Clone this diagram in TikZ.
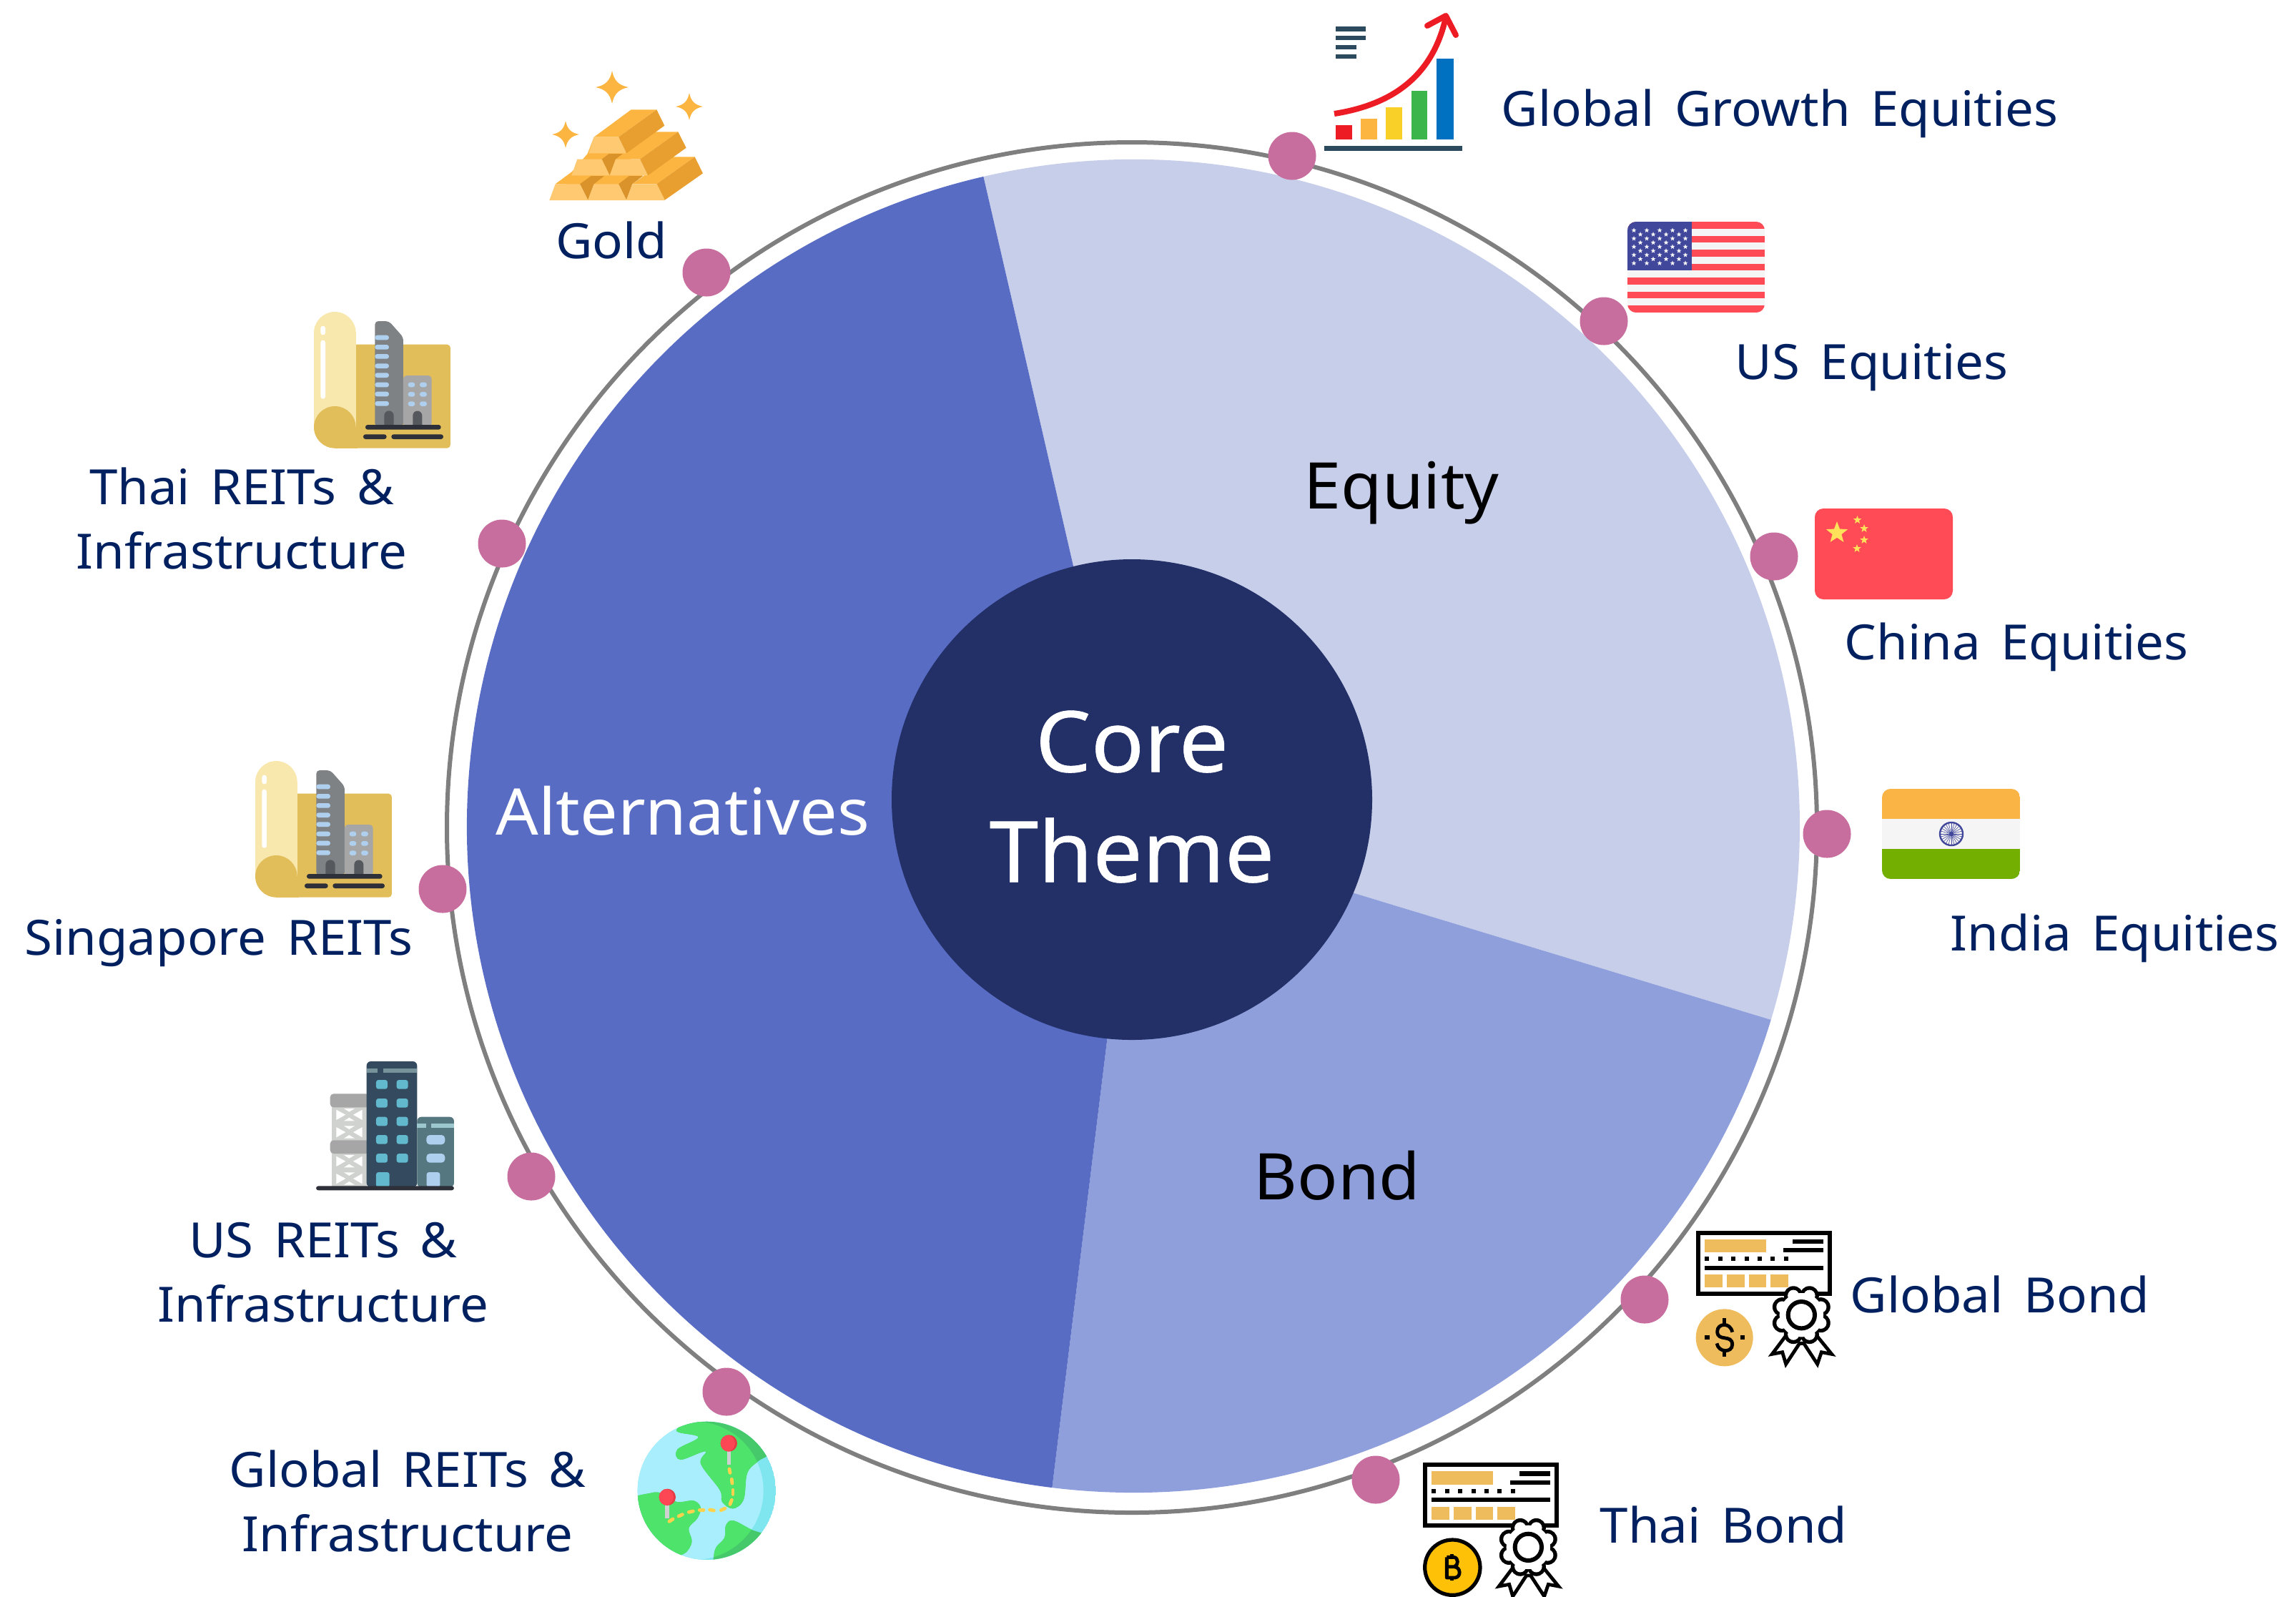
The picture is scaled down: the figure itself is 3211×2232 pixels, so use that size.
\documentclass[tikz,border=0pt]{standalone}
\usepackage{fontspec}
\setmainfont{Noto Sans}[WordSpace=1.55,FakeStretch=1.04]

\definecolor{navytext}{HTML}{002060}
\definecolor{equityfill}{HTML}{C7CEEA}
\definecolor{bondfill}{HTML}{8F9FDB}
\definecolor{altfill}{HTML}{586CC4}
\definecolor{hubfill}{HTML}{223067}
\definecolor{dotfill}{HTML}{C86E9E}
\definecolor{ringgray}{HTML}{7F7F7F}
\definecolor{chartslate}{HTML}{2B4A5E}
\definecolor{chartred}{HTML}{ED1C24}
\definecolor{chartyellow}{HTML}{F9D028}
\definecolor{chartgreen}{HTML}{3CB54A}
\definecolor{chartblue}{HTML}{0070C0}
\definecolor{flagred}{HTML}{FF4B55}
\definecolor{flagblue}{HTML}{41479B}
\definecolor{flagwhite}{HTML}{F5F5F5}
\definecolor{flagyellow}{HTML}{FFE15A}
\definecolor{flagorange}{HTML}{FAB446}
\definecolor{flaggreen}{HTML}{73AF00}
\definecolor{goldtop}{HTML}{FCB541}
\definecolor{goldfront}{HTML}{FFC971}
\definecolor{goldside}{HTML}{E99F2F}
\definecolor{goldshade}{HTML}{D9932A}
\definecolor{sheetdark}{HTML}{E2BE5B}
\definecolor{sheetlight}{HTML}{F8E8AE}
\definecolor{towergray}{HTML}{7F8284}
\definecolor{towerlight}{HTML}{A6A6A6}
\definecolor{doorgray}{HTML}{55585D}
\definecolor{paneblue}{HTML}{AED0EE}
\definecolor{grounddark}{HTML}{2D3039}
\definecolor{blockdark}{HTML}{344A5F}
\definecolor{blockteal}{HTML}{557780}
\definecolor{blockband}{HTML}{9CC7CE}
\definecolor{paneteal}{HTML}{62B8CC}
\definecolor{latticegray}{HTML}{D0D2CF}
\definecolor{seaone}{HTML}{A8EEFC}
\definecolor{seatwo}{HTML}{7FE6F0}
\definecolor{landone}{HTML}{4EE36B}
\definecolor{landtwo}{HTML}{46C96A}
\definecolor{pinred}{HTML}{FD4755}
\definecolor{pindark}{HTML}{E53B45}
\definecolor{routeyellow}{HTML}{FFD24D}
\definecolor{chequegold}{HTML}{EFBC5D}
\definecolor{coinyellow}{HTML}{FFC107}

\tikzset{
assetlabel/.style={text=navytext,inner sep=0pt,align=center,font=\fontsize{17}{22.5}\selectfont},
sliceslabel/.style={inner sep=0pt,font=\fontsize{22.5}{27}\selectfont},
assetdot/.style={circle,fill=dotfill,inner sep=0pt,minimum size=16.75pt},
}

\newcommand{\flagstar}[4]{\fill[#4,shift={(#1,#2)},scale=#3] (-90:1) -- (-54:.42) -- (-18:1) -- (18:.42) -- (54:1) -- (90:.42) -- (126:1) -- (162:.42) -- (198:1) -- (234:.42) -- cycle;}
\newcommand{\goldspark}[3]{\fill[goldtop,shift={(#1,#2)},scale=#3] (0,-1) .. controls (.12,-.4) and (.4,-.12) .. (1,0) .. controls (.4,.12) and (.12,.4) .. (0,1) .. controls (-.12,.4) and (-.4,.12) .. (-1,0) .. controls (-.4,-.12) and (-.12,-.4) .. cycle;}

\newcommand{\scrollicon}[2]{
\begin{scope}[shift={(#1,#2)},scale=0.3333]
\fill[sheetdark,rounded corners=1.2pt] (250,245) rectangle (690,680);
\fill[sheetlight] (205,196) circle (88);
\fill[sheetlight] (117,196) rectangle (293,592);
\fill[sheetdark] (205,592) circle (88);
\fill[sheetdark] (205,600) rectangle (300,680);
\fill[white,rounded corners=.8pt] (145,167) rectangle (165,205);
\fill[white,rounded corners=.8pt] (145,227) rectangle (165,473);
\fill[towergray,rounded corners=1.2pt] (373,590) -- (373,147) -- (432,147) -- (492,215) -- (492,590) -- cycle;
\foreach \winy in {206,246,285,325,364,404,443,483}
\fill[paneblue,rounded corners=.8pt] (373,\winy) rectangle ++(59,20);
\fill[towerlight,rounded corners=1.2pt] (492,590) -- (492,375) -- (611,375) -- (611,590) -- cycle;
\foreach \winy in {404,444,484}{
\fill[paneblue,rounded corners=.8pt] (512,\winy) rectangle ++(29,20);
\fill[paneblue,rounded corners=.8pt] (561,\winy) rectangle ++(30,20);
}
\fill[doorgray] (412,585) -- (412,543) arc (180:360:20) -- (452,585) -- cycle;
\fill[doorgray] (532,585) -- (532,543) arc (180:360:19.5) -- (571,585) -- cycle;
\fill[grounddark,rounded corners=.8pt] (333,582) rectangle (650,602);
\fill[grounddark,rounded corners=.8pt] (324,622) rectangle (422,642);
\fill[grounddark,rounded corners=.8pt] (442,622) rectangle (660,642);
\end{scope}
}

\newcommand{\chequeicon}[2]{
\begin{scope}[shift={(#1,#2)},scale=0.3333]
\draw[line width=1.5pt,fill=white] (106,71) rectangle (658,326);
\fill[chequegold] (133,98) rectangle (391,153);
\fill (500,98) rectangle (631,117);
\fill (463,135) rectangle (631,153);
\foreach \sqx in {133,188,244,299,354,409,464}
\fill (\sqx,172) rectangle ++(18,18);
\fill (133,209) rectangle (631,227);
\foreach \blkx/\blkw in {133/74,225/74,318/73,408/75}
\fill[chequegold] (\blkx,246) rectangle ++(\blkw,54);
\draw[line width=1.2pt,fill=white,line join=miter] (475,500) -- (415,580) -- (458,572) -- (473,622) -- (530,535) -- (548,535) -- (605,622) -- (622,572) -- (665,580) -- (600,500) -- cycle;
\foreach \lobe in {0,45,...,315}
\fill (538,416) ++(\lobe+22.5:88) circle (40);
\foreach \lobe in {0,45,...,315}
\fill[white] (538,416) ++(\lobe+22.5:88) circle (24);
\fill[white] (538,416) circle (92);
\draw[line width=1.5pt] (538,416) circle (56);
\end{scope}
}

\newcommand{\landpath}{
plot[smooth cycle,tension=.6] coordinates {(258,118) (350,148) (262,200) (275,243) (380,208) (360,260) (440,370) (450,420) (495,448) (540,410) (555,300) (600,250) (680,190) (620,60) (400,40)}
plot[smooth cycle,tension=.6] coordinates {(60,420) (150,383) (200,385) (260,420) (330,415) (360,445) (345,490) (310,530) (322,590) (285,640) (200,640) (80,560)}
plot[smooth cycle,tension=.6] coordinates {(415,650) (425,610) (460,570) (465,520) (495,498) (570,535) (660,580) (600,690) (420,700)}
}

\begin{document}
\begin{tikzpicture}[x=0.25pt,y=0.25pt,yscale=-1]
\useasboundingbox (0,0) rectangle (3211,2232);

% ring and pie
\draw[ringgray,line width=1.5pt] (1583,1157) circle (958);
\fill[equityfill] (1585,1155) -- ++(-103:932) arc (-103:16.9:932) -- cycle;
\fill[bondfill] (1585,1155) -- ++(16.9:932) arc (16.9:97:932) -- cycle;
\fill[altfill] (1585,1155) -- ++(97:932) arc (97:257:932) -- cycle;
\node[circle,fill=hubfill,inner sep=0pt,minimum size=168pt] (hub) at (1583,1118) {};
\node[text=white,inner sep=0pt,align=center,font=\fontsize{29.6}{38.5}\selectfont\addfontfeature{FakeBold=0.5}] (hubtext) at (1583,1114) {Core\\Theme};

\node[sliceslabel,text=black,anchor=base] (equity) at (1960,711) {Equity};
\node[sliceslabel,text=black,anchor=base] (bond) at (1870,1677) {Bond};
\node[sliceslabel,text=white,anchor=base] (alternatives) at (955,1167) {Alternatives};

% dots on the ring
\node[assetdot] (dotgrowth) at (1807,218) {};
\node[assetdot] (dotus) at (2243,449) {};
\node[assetdot] (dotchina) at (2481,778) {};
\node[assetdot] (dotindia) at (2555,1166) {};
\node[assetdot] (dotglobalbond) at (2300,1817) {};
\node[assetdot] (dotthaibond) at (1924,2069) {};
\node[assetdot] (dotglobalreit) at (1016,1946) {};
\node[assetdot] (dotusreit) at (743,1645) {};
\node[assetdot] (dotsingapore) at (619,1243) {};
\node[assetdot] (dotthaireit) at (702,760) {};
\node[assetdot] (dotgold) at (988,381) {};

% labels
\node[assetlabel,anchor=base west] (growthtext) at (2099,176) {Global Growth Equities};
\node[assetlabel,anchor=base west] (ustext) at (2426,530) {US Equities};
\node[assetlabel,anchor=base west] (chinatext) at (2579,922) {China Equities};
\node[assetlabel,anchor=base west] (indiatext) at (2727,1329) {India Equities};
\node[assetlabel,anchor=base west] (globalbondtext) at (2587,1835) {Global Bond};
\node[assetlabel,anchor=base west] (thaibondtext) at (2237,2157) {Thai Bond};
\node[assetlabel,anchor=base] (goldtext) at (855,361) {Gold};
\node[assetlabel] (thaireittext) at (338,725) {Thai REITs \&\\Infrastructure};
\node[assetlabel,anchor=base] (singaporetext) at (306,1335) {Singapore REITs};
\node[assetlabel] (usreittext) at (452,1779) {US REITs \&\\Infrastructure};
\node[assetlabel] (globalreittext) at (570,2099) {Global REITs \&\\Infrastructure};

% growth chart
\fill[chartslate] (1868,37) rectangle (1910,44);
\fill[chartslate] (1868,50) rectangle (1910,56);
\fill[chartslate] (1868,63) rectangle (1897,69);
\fill[chartslate] (1868,76) rectangle (1897,82);
\fill[chartred] (1868,175) rectangle (1891,195);
\fill[goldtop] (1903,166) rectangle (1926,195);
\fill[chartyellow] (1938,150) rectangle (1961,195);
\fill[chartgreen] (1974,127) rectangle (1996,195);
\fill[chartblue] (2009,82) rectangle (2033,195);
\fill[chartslate] (1852,204) rectangle (2045,211);
\draw[chartred,line width=2pt] (1866,159) .. controls (1955,145) and (2005,100) .. (2022,24);
\draw[chartred,line width=2pt,line cap=round,line join=round] (1996,36) -- (2022,22) -- (2036,49);

% us flag
\begin{scope}
\clip[rounded corners=3pt] (2276,310) rectangle (2468,437);
\fill[flagwhite] (2276,310) rectangle (2468,437);
\foreach \stripe in {0,2,...,12}
\fill[flagred] (2276,310+\stripe*9.77) rectangle (2468,310+\stripe*9.77+9.77);
\fill[flagblue] (2276,310) rectangle (2366,378);
\foreach \starx in {2285,2303,2321,2339,2357}
\foreach \stary in {322,333.5,345,356.5,368}
\flagstar{\starx}{\stary}{3.6}{flagwhite};
\foreach \starx in {2294,2312,2330,2348}
\foreach \stary in {327.7,339.2,350.7,362.2}
\flagstar{\starx}{\stary}{3.6}{flagwhite};
\end{scope}

% china flag
\fill[flagred,rounded corners=3pt] (2538,711) rectangle (2731,838);
\flagstar{2569}{745}{16}{flagyellow}
\flagstar{2597.5}{727}{6}{flagyellow}
\flagstar{2607}{739}{6}{flagyellow}
\flagstar{2607}{755}{6}{flagyellow}
\flagstar{2597}{767}{6}{flagyellow}

% india flag
\begin{scope}
\clip[rounded corners=3pt] (2632,1103) rectangle (2825,1229);
\fill[flagorange] (2632,1103) rectangle (2825,1145);
\fill[flagwhite] (2632,1145) rectangle (2825,1187);
\fill[flaggreen] (2632,1187) rectangle (2825,1229);
\end{scope}
\draw[flagblue,line width=.6pt] (2729,1166) circle (16);
\foreach \spoke in {0,15,...,345}
\draw[flagblue,line width=.15pt] (2729,1166) -- ++(\spoke:16);
\fill[flagblue] (2729,1166) circle (3);

% gold
\goldspark{856}{122}{23}
\goldspark{964}{149}{19}
\goldspark{791}{188}{19}
\begin{scope}[shift={(700,60)},scale=0.3333]
\fill[goldtop] (230,592) -- (300,540) -- (365,465) -- (392,395) -- (528,463) -- (597,558) -- (528,600) -- cycle;
\fill[goldshade] (333,592) -- (367,660) -- (392,592) -- (435,558) -- (380,558) -- cycle;
\fill[goldshade] (495,592) -- (528,660) -- (553,592) -- (597,558) -- (540,558) -- cycle;
\fill[goldtop] (553,592) -- (655,592) -- (815,478) -- (712,478) -- cycle;
\fill[goldside] (655,592) -- (688,660) -- (849,547) -- (815,478) -- cycle;
\foreach \frontx in {0,162,323}
\fill[goldfront] (205+\frontx,660) -- (230+\frontx,592) -- (333+\frontx,592) -- (367+\frontx,660) -- cycle;
\fill[goldshade] (425,488) -- (458,556) -- (483,488) -- (513,465) -- (455,465) -- cycle;
\fill[goldtop] (483,488) -- (585,488) -- (745,373) -- (643,373) -- cycle;
\fill[goldside] (585,488) -- (618,556) -- (779,440) -- (745,373) -- cycle;
\fill[goldfront] (298,556) -- (322,488) -- (425,488) -- (458,556) -- cycle;
\fill[goldfront] (458,556) -- (483,488) -- (585,488) -- (618,556) -- cycle;
\fill[goldtop] (392,395) -- (495,395) -- (655,280) -- (548,280) -- cycle;
\fill[goldside] (495,395) -- (528,463) -- (688,347) -- (655,280) -- cycle;
\fill[goldfront] (370,463) -- (392,395) -- (495,395) -- (528,463) -- cycle;
\end{scope}

% reit sheets
\scrollicon{400}{400}
\scrollicon{318}{1028}

% us reit block
\begin{scope}[shift={(420,1460)},scale=0.3333]
\fill[latticegray] (133,250) rectangle (278,600);
\foreach \celly in {272,345,467,540}{
\fill[white] (151,\celly+3) -- (151,\celly+46) -- (190,\celly+24) -- cycle;
\fill[white] (260,\celly+3) -- (260,\celly+46) -- (222,\celly+24) -- cycle;
\fill[white] (183,\celly-2) -- (228,\celly-2) -- (205,\celly+12) -- cycle;
\fill[white] (183,\celly+50) -- (228,\celly+50) -- (205,\celly+36) -- cycle;
}
\fill[towerlight,rounded corners=1.2pt] (125,208) rectangle (290,265);
\fill[towerlight,rounded corners=1.2pt] (125,403) rectangle (290,459);
\fill[blockdark,rounded corners=1.5pt] (278,600) -- (278,72) -- (490,72) -- (490,600) -- cycle;
\fill[blockteal!80] (278,102) rectangle (325,120);
\fill[blockteal!80] (347,102) rectangle (490,120);
\foreach \winy in {150,228,305,381,459}{
\fill[paneteal,rounded corners=.8pt] (318,\winy) rectangle ++(48,38);
\fill[paneteal,rounded corners=.8pt] (404,\winy) rectangle ++(48,38);
}
\fill[paneteal,rounded corners=.8pt] (318,537) rectangle (374,600);
\fill[blockteal,rounded corners=1.5pt] (490,600) -- (490,305) -- (645,305) -- (645,600) -- cycle;
\fill[blockband] (490,333) rectangle (528,352);
\fill[blockband] (549,333) rectangle (645,352);
\fill[paneblue,rounded corners=1.2pt] (529,381) rectangle (607,421);
\fill[paneblue,rounded corners=1.2pt] (529,459) rectangle (607,497);
\fill[paneblue,rounded corners=.8pt] (530,537) rectangle (586,600);
\fill[grounddark,rounded corners=.8pt] (66,595) rectangle (645,613);
\end{scope}

% globe
\begin{scope}[shift={(860,1960)},scale=0.3333]
\begin{scope}
\clip (385,373) circle (290);
\fill[seatwo] (385,373) circle (290);
\fill[seaone] (333,373) circle (290);
\fill[landtwo] \landpath;
\clip (333,373) circle (290);
\fill[landone] \landpath;
\end{scope}
\fill[flagwhite!85!black] (470,205) rectangle (486,265);
\fill[flagwhite!85!black] (211,430) rectangle (227,490);
\foreach \pinx/\piny in {478/174,220/400}{
\fill[pindark] (\pinx,\piny) circle (35);
\begin{scope}
\clip (\pinx,\piny) circle (35);
\fill[pinred] (\pinx-9,\piny) circle (35);
\end{scope}
}
\foreach \ax/\ay/\bx/\by in {480/282/483/298,490/325/492/342,495/370/495/388,490/412/483/430,462/447/445/455,415/456/398/453,372/454/355/454,328/459/310/463,283/473/267/480,243/492/228/502}
\draw[routeyellow,line width=1.2pt,line cap=round] (\ax,\ay) -- (\bx,\by);
\end{scope}

% bonds
\chequeicon{2340}{1700}
\begin{scope}[shift={(2340,1700)},scale=0.3333]
\fill[chequegold] (215,511) circle (120);
\fill (133,502) rectangle (152,520);
\fill (281,502) rectangle (300,520);
\draw[line width=1.2pt] (215,430) -- (215,456);
\draw[line width=1.2pt] (215,566) -- (215,592);
\draw[line width=1.2pt] (248,488) .. controls (240,445) and (185,450) .. (185,485) .. controls (185,530) and (248,495) .. (248,540) .. controls (248,575) and (190,575) .. (183,535);
\end{scope}

\chequeicon{1958}{2024.67}
\begin{scope}[shift={(1960,2020)},scale=0.3333]
\draw[line width=1.3pt,fill=coinyellow] (214,515) circle (116);
\draw[line width=1.2pt,line join=round] (190,472) -- (190,558) -- (225,558) .. controls (250,555) and (250,515) .. (222,512) -- (190,512) (222,512) .. controls (240,505) and (240,475) .. (220,472) -- (190,472);
\draw[line width=1.2pt] (212,460) -- (212,472) (212,558) -- (212,570);
\end{scope}

\end{tikzpicture}
\end{document}
